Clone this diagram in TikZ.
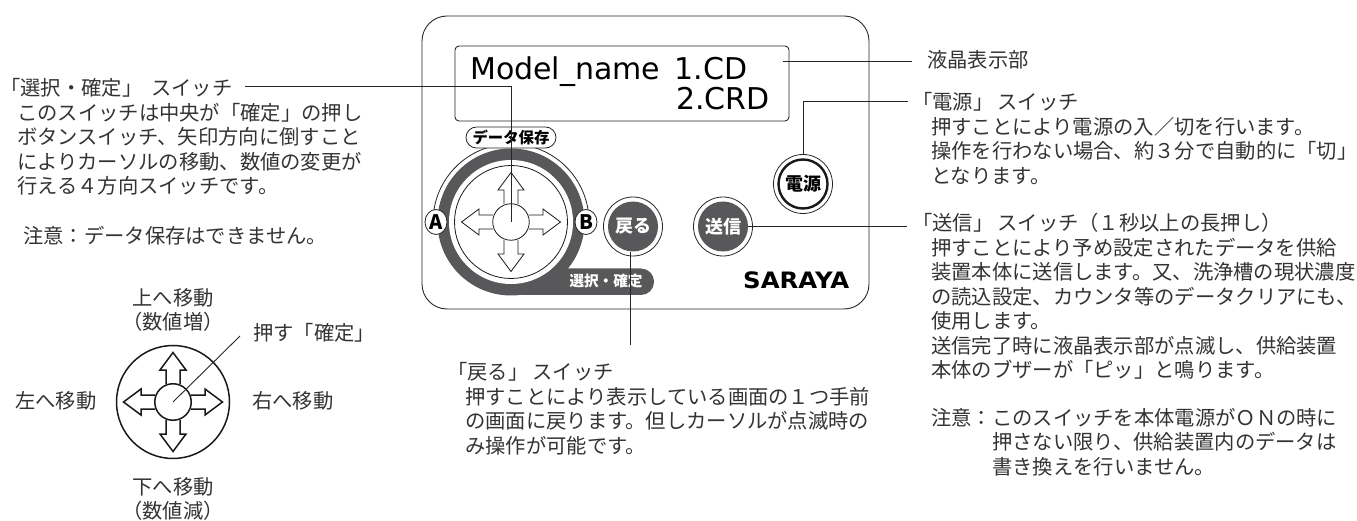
\documentclass[tikz,border=0pt]{standalone}
\usepackage{fontspec}
\setmainfont{Noto Sans CJK JP}
\newfontfamily\lcdfont{DejaVu Sans}
\usetikzlibrary{shapes.geometric}
\definecolor{panelgray}{HTML}{58585A}
\begin{document}
\begin{tikzpicture}
[ x=1pt, y=-1pt,
wire/.style={draw=black!85, line width=0.9pt},
note/.style={anchor=north west, inner sep=0pt, align=left, text=black!80,
font=\fontsize{20.3}{24.4}\selectfont},
centernote/.style={note, anchor=north, align=center},
btnring/.style={circle, draw=black!85, line width=0.8pt, fill=white,
minimum size=59pt, inner sep=0pt},
darkbtn/.style={circle, fill=panelgray, text=white, minimum size=50pt, inner sep=0pt,
font=\fontsize{18}{18}\selectfont\bfseries},
whitebtn/.style={circle, draw=black!90, line width=2.4pt, fill=white, minimum size=49pt,
inner sep=0pt, font=\fontsize{18}{18}\selectfont\bfseries},
abpill/.style={ellipse, draw=black!85, line width=0.8pt, fill=white, minimum width=22pt,
minimum height=25pt, inner sep=0pt, font=\fontsize{20}{20}\selectfont\bfseries},
]
\useasboundingbox (0,0) rectangle (1357,521);

% panel
\node (panel) [draw=black!85, line width=0.9pt, rounded corners=25pt, minimum width=447pt,
minimum height=293pt, inner sep=0pt] at (645.5,162.5) {};
\node (lcd) [draw=black!85, line width=0.9pt, rounded corners=4pt, minimum width=334pt,
minimum height=75pt, inner sep=0pt] at (622,83.5) {};
\node (lcdone) [anchor=base west, inner sep=0pt, font=\fontsize{30}{30}\lcdfont] at (470,80) {Model\_name\kern5pt{} 1.CD};
\node (lcdtwo) [anchor=base west, inner sep=0pt, font=\fontsize{30}{30}\lcdfont] at (676,110) {2.CRD};

% dial with its bar
\coordinate (stickhome) at (511,222);
\coordinate (padhome) at (173,402);
\fill[panelgray] (511,222) circle (73.5);
\fill[panelgray, rounded corners=13pt] (511,268.5) -- (654,268.5) -- (654,295) -- (511,295) -- cycle;
\fill[white] (stickhome) circle (62);
\draw[black!85, line width=0.8pt] (433,222) arc [start angle=180, end angle=360, radius=78];
\node (selbar) [text=white, inner sep=0pt, font=\fontsize{14.6}{15}\selectfont\bfseries] at (606,281) {選択・確定};
\node (savepill) [draw=black!85, line width=0.8pt, fill=white, rounded corners=10.5pt, minimum width=90pt,
minimum height=21pt, inner sep=0pt, font=\fontsize{15.4}{15}\selectfont\bfseries] at (511,137.5) {データ保存};
\node (apill) [abpill] at (436,222) {A};
\node (bpill) [abpill] at (586,222) {B};

% both pads
\foreach \hub/\lw in {stickhome/0.8pt, padhome/1.5pt}
{
\node (\hub ring) [circle, draw=black!90, line width=\lw, minimum size=113pt, inner sep=0pt] at (\hub) {};
\foreach \ang in {0,90,180,270}
\draw[black!90, line width=\lw, fill=white, shift={(\hub)}, rotate=\ang]
(18,-7) -- (32,-7) -- (32,-13) -- (49.5,0) -- (32,13) -- (32,7) -- (18,7);
\node (\hub knob) [circle, draw=black!90, line width=\lw, fill=white, minimum size=36.5pt, inner sep=0pt] at (\hub) {};
}

% buttons
\node (backring) [btnring] at (633,226.5) {};
\node (back) [darkbtn] at (backring) {戻る};
\node (sendring) [btnring] at (723,226.5) {};
\node (send) [darkbtn] at (sendring) {送信};
\node (powerring) [btnring] at (803,184) {};
\node (power) [whitebtn] at (powerring) {電源};
\node (logo) [anchor=base west, inner sep=0pt, font=\fontsize{22.6}{22.6}\lcdfont\bfseries] at (743,289) {\scalebox{1.08}[1]{SARAYA}};

% texts on the left
\node (seltitle) [note] at (0,78) {「選択・確定」\kern9ptスイッチ};
\node (selbody) [note] at (17,103) {このスイッチは中央が「確定」の押し\\ボタンスイッチ、矢印方向に倒すこと\\によりカーソルの移動、数値の変更が\\行える４方向スイッチです。};
\node (selwarn) [note] at (23,226) {注意：データ保存はできません。};
\node (padup) [centernote] at (173,288) {上へ移動\\（数値増）};
\node (paddown) [centernote] at (173,477) {下へ移動\\（数値減）};
\node (padleft) [note] at (15,391) {左へ移動};
\node (padright) [note] at (252,391) {右へ移動};
\node (padpush) [note] at (253,323) {押す「確定」};

% texts on the right
\node (lcdlabel) [note] at (927,50) {液晶表示部};
\node (powertitle) [note] at (912,92) {「電源」\kern4ptスイッチ};
\node (powerbody) [note] at (931,117) {押すことにより電源の入／切を行います。\\操作を行わない場合、約３分で自動的に「切」\\となります。};
\node (sendtitle) [note] at (912,213) {「送信」\kern4ptスイッチ（１秒以上の長押し）};
\node (sendbody) [note] at (931,238) {押すことにより予め設定されたデータを供給\\装置本体に送信します。又、洗浄槽の現状濃度\\の読込設定、カウンタ等のデータクリアにも、\\使用します。\\送信完了時に液晶表示部が点滅し、供給装置\\本体のブザーが「ピッ」と鳴ります。};
\node (sendwarn) [note] at (931,408) {注意：このスイッチを本体電源がＯＮの時に\\\hspace*{61pt}押さない限り、供給装置内のデータは\\\hspace*{61pt}書き換えを行いません。};

% texts below the panel
\node (backtitle) [note] at (447,362) {「戻る」\kern4ptスイッチ};
\node (backbody) [note] at (465,387) {押すことにより表示している画面の１つ手前\\の画面に戻ります。但しカーソルが点滅時の\\み操作が可能です。};

% connectors
\coordinate (selstart) at (245,86);
\coordinate (lcdend) at (912,61);
\coordinate (powerend) at (908,101);
\coordinate (sendend) at (907,226.5);
\coordinate (backend) at (630,345);
\coordinate (pushend) at (240,336);
\draw[wire] (selstart) -| (stickhomeknob.center);
\draw[wire] ([xshift=-6pt]lcd.east |- lcdend) -- (lcdend);
\draw[wire] (powerring.north) |- (powerend);
\draw[wire] (send.east) -- (sendend);
\draw[wire] (back.265) -- (back.265 |- backend);
\draw[wire] (padhomeknob.center) -- (pushend);
\end{tikzpicture}
\end{document}
